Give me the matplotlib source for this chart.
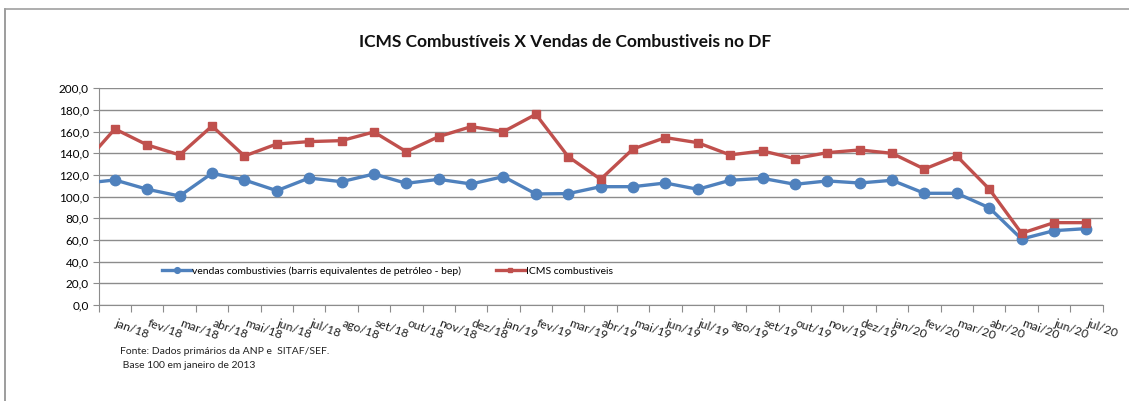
import matplotlib
matplotlib.use("Agg")
import matplotlib.pyplot as plt
from matplotlib.lines import Line2D
import numpy as np

plt.rcParams['font.family'] = ['Lato', 'DejaVu Sans']

# Data (index base 100 = jan/2013)
months = ["jan/18", "fev/18", "mar/18", "abr/18", "mai/18", "jun/18", "jul/18", "ago/18",
          "set/18", "out/18", "nov/18", "dez/18", "jan/19", "fev/19", "mar/19", "abr/19",
          "mai/19", "jun/19", "jul/19", "ago/19", "set/19", "out/19", "nov/19", "dez/19",
          "jan/20", "fev/20", "mar/20", "abr/20", "mai/20", "jun/20", "jul/20"]
# value of the month before jan/18 (dez/17), only visible as a line entering the plot
vendas_prev = 112.2
icms_prev = 128.7
vendas = [115.4, 106.8, 100.6, 121.6, 115.4, 105.5, 117.2, 113.8, 120.9, 112.3, 116.0,
          111.7, 118.5, 102.5, 102.8, 109.2, 109.2, 112.6, 106.8, 115.1, 116.9, 111.4,
          114.5, 112.6, 115.1, 103.1, 103.1, 89.8, 60.9, 68.6, 70.5]
icms = [162.5, 147.7, 138.5, 165.2, 137.5, 148.6, 150.8, 151.7, 159.7, 141.5, 155.4,
        164.6, 160.0, 176.0, 136.9, 116.0, 144.0, 154.5, 149.8, 138.5, 142.2, 135.1,
        140.6, 143.1, 140.0, 125.5, 137.5, 107.1, 66.2, 76.0, 76.0]
yticks = [0, 20, 40, 60, 80, 100, 120, 140, 160, 180, 200]

title = "ICMS Combustíveis X Vendas de Combustiveis no DF"
label_vendas = "vendas combustivies (barris equivalentes de petróleo - bep)"
label_icms = "ICMS combustiveis"
note1 = "Fonte: Dados primários da ANP e  SITAF/SEF."
note2 = " Base 100 em janeiro de 2013"

BLUE = "#4F81BD"
RED = "#C0504D"

W, H = 1129, 401
fig = plt.figure(figsize=(W / 100, H / 100), dpi=100)
fig.patch.set_facecolor("white")

# outer chart border (left and top visible)
fig.add_artist(Line2D([4.5 / W, 4.5 / W], [0, 1 - 9 / H], transform=fig.transFigure,
                      color="#8c8c8c", lw=1.2))
fig.add_artist(Line2D([4.5 / W, 1], [1 - 9 / H, 1 - 9 / H], transform=fig.transFigure,
                      color="#a0a0a0", lw=1.2))

left, right, top, bottom = 98.7, 1102.5, 88.3, 305.0
ax = fig.add_axes([left / W, 1 - bottom / H, (right - left) / W, (bottom - top) / H])

n = len(months)
x = np.arange(n)
xv = np.concatenate([[-1], x])
ax.plot(xv, [vendas_prev] + vendas, color=BLUE, lw=2.4, marker="o", markersize=7.5,
        markevery=list(range(1, n + 1)), label=label_vendas, solid_joinstyle="round", zorder=3)
ax.plot(xv, [icms_prev] + icms, color=RED, lw=2.4, marker="s", markersize=6,
        markevery=list(range(1, n + 1)), label=label_icms, solid_joinstyle="round", zorder=3)

ax.set_xlim(-0.5, n - 0.5)
ax.set_ylim(0, 200)
ax.set_yticks(yticks)
ax.set_yticklabels([f"{v:.1f}".replace(".", ",") for v in yticks], fontsize=8.5)
ax.yaxis.grid(True, color="#8c8c8c", lw=1.0)
ax.set_axisbelow(True)
for s in ["top", "right"]:
    ax.spines[s].set_visible(False)
ax.spines["left"].set_color("#8c8c8c")
ax.spines["bottom"].set_color("#8c8c8c")
ax.tick_params(axis="y", length=4, color="#8c8c8c", pad=3)

# category boundaries as ticks
ax.set_xticks(np.arange(n + 1) - 0.5)
ax.set_xticklabels([])
ax.tick_params(axis="x", length=5, color="#8c8c8c", direction="out")
for i, m in enumerate(months):
    ax.annotate(m, xy=(i, 0), xycoords=("data", "axes fraction"), xytext=(-1, -13),
                textcoords="offset pixels", rotation=-20, ha="left", va="top",
                fontsize=8.7, color="#222222")

leg = ax.legend(loc="lower left", bbox_to_anchor=(0.058, 0.11), ncol=2, frameon=False,
                fontsize=7.5, handlelength=2.8, handletextpad=0.1, columnspacing=3.3,
                markerscale=0.55, borderpad=0)

fig.text(565 / W, 1 - 42 / H, title, ha="center", va="center", fontsize=12.5,
         fontweight="bold", color="#111111")
fig.text(120 / W, 1 - 352 / H, note1, ha="left", va="center", fontsize=7.5, color="#222222")
fig.text(120 / W, 1 - 366 / H, note2, ha="left", va="center", fontsize=7.5, color="#222222")

fig.savefig("out.png", dpi=100)
